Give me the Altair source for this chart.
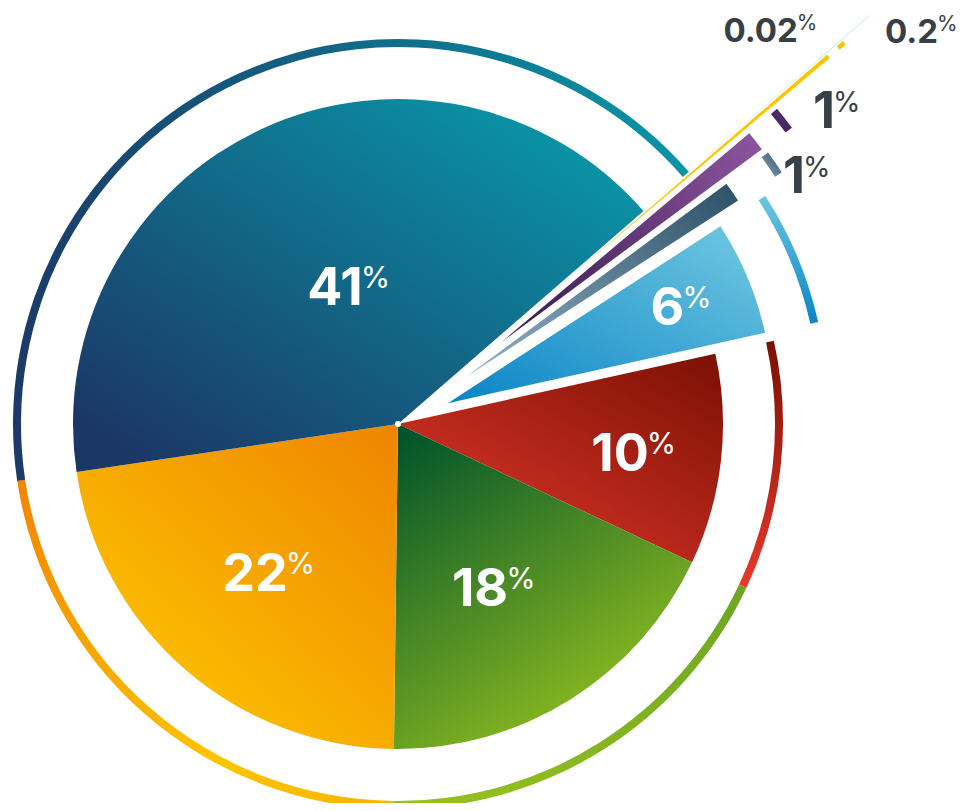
import math
import altair as alt
import pandas as pd

# ---------------- data ----------------
names = ["Red", "Green", "Yellow", "Blue", "Teal", "Gold", "Purple", "Slate", "Sky"]
values = [10.5, 18.25, 22.5, 41.1, 0.02, 0.2, 1.0, 1.0, 5.7]
labels = ["10", "18", "22", "41", "0.02", "0.2", "1", "1", "6"]

# ---------------- style ----------------
CX, CY = 390, 416          # pie centre inside the view
R = 325                    # slice radius
RING_IN, RING_OUT = 377, 385
START_DEG = 77.5           # angle where the first slice starts (clockwise from 12 o'clock)
explode = [0, 0, 0, 0, 299, 241, 131, 82, 54]
ring_explode = [0, 0, 0, 0, 262, 202, 108, 74, 48]
label_shift_deg = [4.2, 0.9, -7.7, 8.2, -2.8, 5.28, 4.2, 5.2, 3.65]
label_radius = [255, 213, 200, 124, 553, 661, 528, 468, 303]
label_group = ["in", "in", "in", "in", "small", "small", "one", "one", "in"]

FONT = "Inter"
DARK = "#393f46"


def grad(stops, x1=0, y1=1, x2=1, y2=0):
    return alt.LinearGradient(
        gradient="linear",
        stops=[alt.GradientStop(color=c, offset=o) for o, c in stops],
        x1=x1, y1=y1, x2=x2, y2=y2,
    )


slice_fill = [
    grad([(0, "#7b1004"), (1, "#e2382b")], x1=1, y1=0, x2=0.1, y2=1),
    grad([(0, "#02542a"), (1, "#98c31f")], x1=0.1, y1=0, x2=0.7, y2=1),
    grad([(0, "#ffca00"), (1, "#ee8500")], x1=0.1, y1=1, x2=1, y2=0),
    grad([(0, "#1b3766"), (1, "#0998a9")], x1=0.1, y1=0.95, x2=0.95, y2=0.1),
    grad([(0, "#7dc9b0"), (1, "#7dc9b0")]),
    grad([(0, "#fcc500"), (1, "#fcc500")]),
    grad([(0, "#351a4a"), (1, "#8f55a0")]),
    grad([(0, "#92b2ca"), (1, "#2c5065")]),
    grad([(0, "#0a84c5"), (1, "#72c9e1")]),
]
ring_fill = [
    grad([(0, "#7a1004"), (1, "#e8392c")], x1=0, y1=0, x2=0, y2=1),
    grad([(0, "#97c31f"), (1, "#6da523")], x1=0, y1=1, x2=1, y2=0),
    grad([(0, "#ef8600"), (0.7, "#fdc500"), (1, "#f8b300")], x1=0, y1=0, x2=1, y2=1),
    grad([(0, "#1b3a68"), (1, "#0995a7")], x1=0, y1=0.5, x2=1, y2=0.5),
    grad([(0, "#7dc9b0"), (1, "#7dc9b0")]),
    grad([(0, "#fcc500"), (1, "#fcc500")]),
    grad([(0, "#3a1f55"), (1, "#5a3478")]),
    grad([(0, "#7f9fb8"), (1, "#3c5a70")]),
    grad([(0, "#6cc7e0"), (1, "#0a85c5")], x1=0, y1=0, x2=0, y2=1),
]

total = sum(values)
mids = []
acc = 0.0
for v in values:
    mids.append(START_DEG + (acc + v / 2) / total * 360)
    acc += v

df = pd.DataFrame({
    "name": names,
    "v": values,
    "label": labels,
    "order": list(range(len(names))),
    "lshift": [s / 360 * total for s in label_shift_deg],
    "lr": label_radius,
    "grp": label_group,
})

start_rad = math.radians(START_DEG)
theta_scale = alt.Scale(domain=[0, total], range=[start_rad, start_rad + 2 * math.pi])

base = alt.Chart(df).transform_window(
    cum="sum(v)", sort=[alt.SortField("order", order="ascending")], frame=[None, 0]
).transform_calculate(
    start="datum.cum - datum.v",
    lpos="datum.cum - datum.v / 2 + datum.lshift",
)

layers = []
for i, n in enumerate(names):
    a = math.radians(mids[i])
    dx, dy = explode[i] * math.sin(a), -explode[i] * math.cos(a)
    rdx, rdy = ring_explode[i] * math.sin(a), -ring_explode[i] * math.cos(a)
    sub = base.transform_filter(alt.datum.name == n)
    layers.append(
        sub.mark_arc(x=CX + rdx, y=CY + rdy, innerRadius=RING_IN, outerRadius=RING_OUT,
                     fill=ring_fill[i]).encode(
            theta=alt.Theta("start:Q", scale=theta_scale, stack=False), theta2="cum:Q")
    )
    layers.append(
        sub.mark_arc(x=CX + dx, y=CY + dy, innerRadius=0, outerRadius=R,
                     fill=slice_fill[i]).encode(
            theta=alt.Theta("start:Q", scale=theta_scale, stack=False), theta2="cum:Q")
    )

dot = alt.Chart(pd.DataFrame({"k": [0]})).mark_circle(size=36, color="white", opacity=1).encode(
    x=alt.value(CX), y=alt.value(CY))
layers.append(dot)

groups = {
    "in": dict(color="white", num=52, pct=30, dy=-17, dx=-2),
    "small": dict(color=DARK, num=33, pct=21, dy=-12, dx=-1),
    "one": dict(color=DARK, num=51, pct=28, dy=-16, dx=-2),
}
for g, st in groups.items():
    sub = base.transform_filter(alt.datum.grp == g)
    enc = dict(theta=alt.Theta("lpos:Q", scale=theta_scale, stack=False),
               radius=alt.Radius("lr:Q", scale=None))
    layers.append(
        sub.mark_text(x=CX, y=CY, align="right", baseline="alphabetic", font=FONT,
                      fontWeight="bold", fontSize=st["num"], color=st["color"]).encode(
            text="label:N", **enc)
    )
    layers.append(
        sub.mark_text(x=CX, y=CY, align="left", baseline="alphabetic", font=FONT,
                      fontWeight="normal", fontSize=st["pct"], dy=st["dy"], dx=st["dx"],
                      color=st["color"]).encode(
            text=alt.value("%"), **enc)
    )

chart = alt.layer(*layers).properties(
    width=950, height=795, padding=0, autosize="none"
).configure_view(strokeWidth=0)

chart.save("out.html", embed_options={"renderer": "svg", "actions": False})
